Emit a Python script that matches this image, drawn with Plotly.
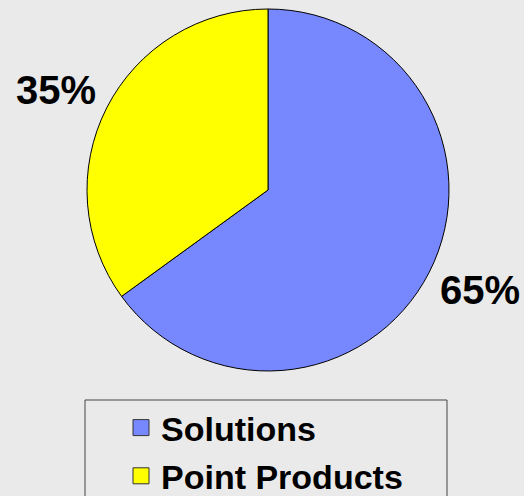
import math
import plotly.graph_objects as go

labels = ["Solutions", "Point Products"]
values = [65, 35]
colors = ["#7788ff", "#ffff00"]

W, H = 524, 496
bg = "#eaeaea"
cx, cy, r = 268, 190, 181

fig = go.Figure()
fig.add_trace(go.Pie(
    labels=labels, values=values, sort=False, direction="clockwise", rotation=0,
    marker=dict(colors=colors, line=dict(color="black", width=1)),
    textinfo="none",
    domain=dict(x=[(cx - r) / W, (cx + r) / W], y=[(H - cy - r) / H, (H - cy + r) / H]),
    showlegend=False, hoverinfo="skip",
))
for lab, col in zip(labels, colors):
    fig.add_trace(go.Scatter(
        x=[None], y=[None], mode="markers", name=lab, legendgroup=lab,
        marker=dict(symbol="square", size=19, color=col, line=dict(color="#333", width=1)),
    ))

# outside percentage labels placed at each slice's mid-angle
total = sum(values)
acc = 0
for v in values:
    mid = (acc + v / 2) / total * 2 * math.pi  # clockwise from top
    acc += v
    px = cx + 238 * math.sin(mid)
    py = cy - 221 * math.cos(mid)
    fig.add_annotation(x=px / W, y=1 - py / H, xref="paper", yref="paper",
                       text=f"{round(100 * v / total)}%", showarrow=False,
                       xanchor="center", yanchor="middle",
                       font=dict(family="Liberation Sans, Arial", size=40, color="black", weight="bold"))

fig.add_shape(type="rect", xref="paper", yref="paper",
              x0=85 / W, x1=447 / W, y0=-0.1, y1=(H - 400) / H,
              line=dict(color="#444", width=1), fillcolor="rgba(0,0,0,0)")

fig.update_layout(
    width=W, height=H, margin=dict(l=0, r=0, t=0, b=0, autoexpand=False),
    paper_bgcolor=bg, plot_bgcolor=bg,
    xaxis=dict(visible=False), yaxis=dict(visible=False),
    showlegend=True,
    legend=dict(x=121 / W, xanchor="left", y=(H - 399) / H, yanchor="top",
                bgcolor="rgba(0,0,0,0)", borderwidth=0, tracegroupgap=1,
                font=dict(family="Liberation Sans, Arial", size=34, color="black", weight="bold")),
)
fig.write_html("out.html")
